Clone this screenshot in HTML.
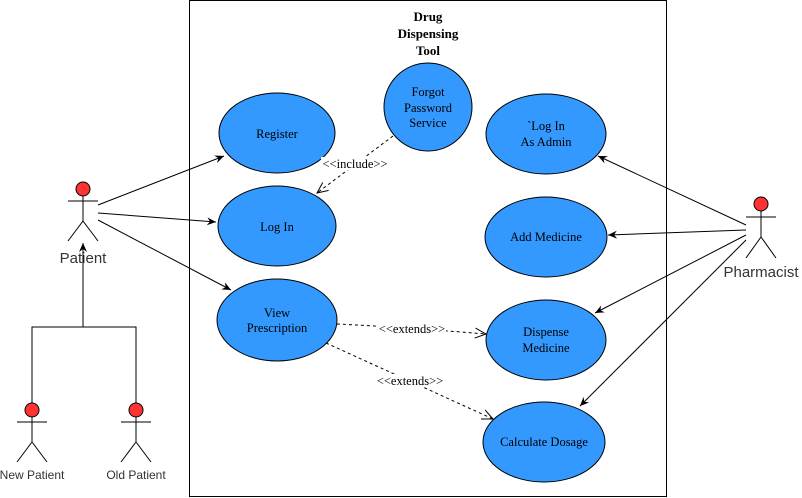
<!DOCTYPE html>
<html><head><meta charset="utf-8"><style>
html,body{margin:0;padding:0;background:#fff;}
svg{display:block;}
</style></head><body>
<svg width="802" height="498" viewBox="0 0 802 498" xmlns="http://www.w3.org/2000/svg">
<defs>
<marker id="a" markerWidth="10" markerHeight="10" refX="9" refY="5" orient="auto" markerUnits="userSpaceOnUse"><path d="M0,1 L9,5 L0,9 L3,5 Z" fill="#000"/></marker>
<marker id="o" markerWidth="12" markerHeight="12" refX="11" refY="6" orient="auto" markerUnits="userSpaceOnUse"><path d="M0,1 L11,6 L0,11" fill="none" stroke="#000"/></marker>
</defs>
<rect x="189.5" y="0.5" width="477" height="496" fill="#fff" stroke="#000"/>
<text x="428" y="21" text-anchor="middle" font-family="Liberation Serif, serif" font-weight="bold" font-size="13">Drug</text>
<text x="428" y="38" text-anchor="middle" font-family="Liberation Serif, serif" font-weight="bold" font-size="13">Dispensing</text>
<text x="428" y="55" text-anchor="middle" font-family="Liberation Serif, serif" font-weight="bold" font-size="13">Tool</text>
<g fill="#3399FF" stroke="#000">
<ellipse cx="277" cy="133" rx="58" ry="40"/>
<ellipse cx="277" cy="226" rx="59" ry="40"/>
<ellipse cx="277" cy="320" rx="60" ry="41"/>
<circle cx="428" cy="107" r="44"/>
<ellipse cx="546" cy="134" rx="60" ry="40"/>
<ellipse cx="546" cy="237" rx="61" ry="40"/>
<ellipse cx="546" cy="340" rx="60" ry="40"/>
<ellipse cx="544" cy="442" rx="61" ry="40"/>
</g>
<g font-family="Liberation Serif, serif" font-size="12.5" fill="#000" text-anchor="middle">
<text x="277" y="138">Register</text>
<text x="277" y="231">Log In</text>
<text x="277" y="317">View</text><text x="277" y="332">Prescription</text>
<text x="428" y="96">Forgot</text><text x="428" y="112">Password</text><text x="428" y="127">Service</text>
<text x="546" y="130">`Log In</text><text x="546" y="146">As Admin</text>
<text x="546" y="241">Add Medicine</text>
<text x="546" y="336">Dispense</text><text x="546" y="352">Medicine</text>
<text x="544" y="446">Calculate Dosage</text>
</g>
<g stroke="#000" fill="none">
<g transform="translate(83,0)"><line x1="0" y1="195" x2="0" y2="221"/><line x1="-15" y1="201" x2="15" y2="201"/><line x1="0" y1="221" x2="-15" y2="241"/><line x1="0" y1="221" x2="15" y2="241"/></g>
<g transform="translate(32,0)"><line x1="0" y1="416" x2="0" y2="442"/><line x1="-15" y1="422" x2="15" y2="422"/><line x1="0" y1="442" x2="-15" y2="462"/><line x1="0" y1="442" x2="15" y2="462"/></g>
<g transform="translate(136,0)"><line x1="0" y1="416" x2="0" y2="442"/><line x1="-15" y1="422" x2="15" y2="422"/><line x1="0" y1="442" x2="-15" y2="462"/><line x1="0" y1="442" x2="15" y2="462"/></g>
<g transform="translate(761,0)"><line x1="0" y1="210" x2="0" y2="237"/><line x1="-15" y1="217" x2="15" y2="217"/><line x1="0" y1="237" x2="-15" y2="258"/><line x1="0" y1="237" x2="15" y2="258"/></g>
</g>
<g fill="#FF3333" stroke="#000">
<circle cx="83" cy="189" r="7"/><circle cx="32" cy="410" r="7"/><circle cx="136" cy="410" r="7"/><circle cx="761" cy="204" r="7"/>
</g>
<g font-family="Liberation Sans, sans-serif" fill="#333" text-anchor="middle">
<text x="83" y="263" font-size="15">Patient</text>
<text x="32" y="479" font-size="12">New Patient</text>
<text x="136" y="479" font-size="12">Old Patient</text>
<text x="761" y="277" font-size="15">Pharmacist</text>
</g>
<g stroke="#000" fill="none">
<polyline points="32,403 32,327 136,327 136,403"/>
<line x1="83" y1="327" x2="83" y2="243" marker-end="url(#a)"/>
<line x1="98" y1="205" x2="224" y2="156" marker-end="url(#a)"/>
<line x1="98" y1="213" x2="216" y2="222" marker-end="url(#a)"/>
<line x1="98" y1="220" x2="231" y2="290" marker-end="url(#a)"/>
<line x1="746" y1="225" x2="598" y2="156" marker-end="url(#a)"/>
<line x1="746" y1="230" x2="608" y2="235" marker-end="url(#a)"/>
<line x1="746" y1="235" x2="595" y2="313" marker-end="url(#a)"/>
<line x1="746" y1="240" x2="580" y2="406" marker-end="url(#a)"/>
<g stroke-dasharray="3,3">
<line x1="393" y1="136" x2="317" y2="193" marker-end="url(#o)"/>
<path d="M337,324 Q400,327 486,334" marker-end="url(#o)"/>
<line x1="326" y1="343" x2="493" y2="419" marker-end="url(#o)"/>
</g>
</g>
<rect x="321" y="157" width="68" height="13" fill="#fff"/>
<rect x="378" y="322" width="68" height="13" fill="#fff"/>
<rect x="376" y="374" width="68" height="13" fill="#fff"/>
<g font-family="Liberation Serif, serif" font-size="12.5" fill="#000" text-anchor="middle">
<text x="355" y="168">&lt;&lt;include&gt;&gt;</text>
<text x="412" y="333">&lt;&lt;extends&gt;&gt;</text>
<text x="410" y="385">&lt;&lt;extends&gt;&gt;</text>
</g>
</svg>
</body></html>
